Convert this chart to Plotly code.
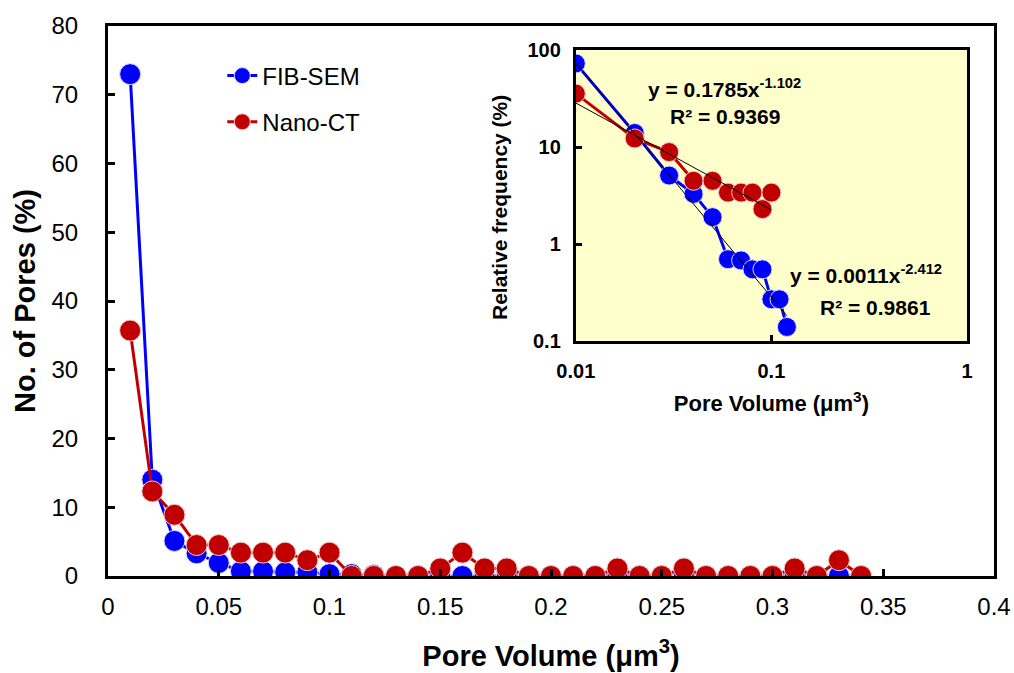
import plotly.graph_objects as go

# ---------- data ----------
pore_volume = [0.01, 0.02, 0.03, 0.04, 0.05, 0.06, 0.07, 0.08, 0.09, 0.10,
               0.11, 0.12, 0.13, 0.14, 0.15, 0.16, 0.17, 0.18, 0.19, 0.20,
               0.21, 0.22, 0.23, 0.24, 0.25, 0.26, 0.27, 0.28, 0.29, 0.30,
               0.31, 0.32, 0.33, 0.34]
fib_sem = [73.0, 14.0, 5.1, 3.3, 1.9, 0.70, 0.68, 0.55, 0.55, 0.27,
           0.27, 0.14, 0, 0, 0, 0, 0, 0, 0, 0,
           0, 0, 0, 0, 0, 0, 0, 0, 0, 0,
           0, 0, 0, 0]
nano_ct = [35.7, 12.3, 8.9, 4.5, 4.5, 3.4, 3.4, 3.4, 2.3, 3.4,
           0, 0, 0, 0, 1.1, 3.4, 1.1, 1.1, 0, 0,
           0, 0, 1.1, 0, 0, 1.1, 0, 0, 0, 0,
           1.1, 0, 2.3, 0]

# inset (log-log) data: non-zero points only
inset_fib_x = pore_volume[:12]
inset_fib_y = fib_sem[:12]
inset_nano_x = pore_volume[:10]
inset_nano_y = nano_ct[:10]

# power-law fits (a, b, R²)
fib_fit = (0.0011, -2.412, 0.9861)
nano_fit = (0.1785, -1.102, 0.9369)
fib_fit_x = [0.01, 0.015, 0.02, 0.03, 0.05, 0.08, 0.12]
nano_fit_x = [0.01, 0.015, 0.02, 0.03, 0.05, 0.07, 0.10]

x_ticks = [0, 0.05, 0.1, 0.15, 0.2, 0.25, 0.3, 0.35, 0.4]
x_tick_text = ["0", "0.05", "0.1", "0.15", "0.2", "0.25", "0.3", "0.35", "0.4"]
y_ticks = [0, 10, 20, 30, 40, 50, 60, 70, 80]
inset_x_ticks = [0.01, 0.1, 1]
inset_x_text = ["<b>0.01</b>", "<b>0.1</b>", "<b>1</b>"]
inset_y_ticks = [0.1, 1, 10, 100]
inset_y_text = ["<b>0.1</b>", "<b>1</b>", "<b>10</b>", "<b>100</b>"]

BLUE = "#0000FF"
RED = "#C00000"
FONT = "Liberation Sans, Arial, sans-serif"

fig = go.Figure()

# ---------- main chart ----------
fig.add_trace(go.Scatter(
    x=pore_volume, y=fib_sem, mode="lines+markers", name="FIB-SEM",
    legendgroup="a",
    line=dict(color=BLUE, width=3),
    marker=dict(color=BLUE, size=21, line=dict(color="#D8D8FF", width=1)),
    xaxis="x", yaxis="y"))
fig.add_trace(go.Scatter(
    x=pore_volume, y=nano_ct, mode="lines+markers", name="Nano-CT",
    legendgroup="b",
    line=dict(color=RED, width=3),
    marker=dict(color=RED, size=21, line=dict(color="#F0C8C8", width=1)),
    xaxis="x", yaxis="y"))

# ---------- inset ----------
fig.add_trace(go.Scatter(
    x=inset_fib_x, y=inset_fib_y, mode="lines+markers", showlegend=False,
    line=dict(color=BLUE, width=3),
    marker=dict(color=BLUE, size=19, line=dict(color="#D8D8FF", width=1)),
    xaxis="x2", yaxis="y2"))
fig.add_trace(go.Scatter(
    x=inset_nano_x, y=inset_nano_y, mode="lines+markers", showlegend=False,
    line=dict(color=RED, width=3),
    marker=dict(color=RED, size=19, line=dict(color="#F0C8C8", width=1)),
    xaxis="x2", yaxis="y2"))

a, b, _ = fib_fit
fig.add_trace(go.Scatter(
    x=fib_fit_x, y=[a * x ** b for x in fib_fit_x], mode="lines",
    showlegend=False, line=dict(color="black", width=1),
    xaxis="x2", yaxis="y2"))
a, b, _ = nano_fit
fig.add_trace(go.Scatter(
    x=nano_fit_x, y=[a * x ** b for x in nano_fit_x], mode="lines",
    showlegend=False, line=dict(color="black", width=1),
    xaxis="x2", yaxis="y2"))

axis_common = dict(showgrid=False, zeroline=False, showline=True,
                   linecolor="black", linewidth=3, ticks="inside",
                   tickcolor="black", tickwidth=3, mirror=True,
                   automargin=False)

fig.update_layout(
    width=1014, height=673,
    margin=dict(l=108, r=20, t=26, b=97),
    plot_bgcolor="rgba(0,0,0,0)", paper_bgcolor="white",
    font=dict(family=FONT, color="black"),
    xaxis=dict(**axis_common, ticklen=7, range=[0, 0.4], tickvals=x_ticks,
               ticktext=x_tick_text, tickfont=dict(size=24),
               ticklabelstandoff=7,
               title=dict(text="<b>Pore Volume (μm<sup>3</sup>)</b>",
                          font=dict(size=29), standoff=27)),
    yaxis=dict(**axis_common, ticklen=7, range=[0, 80], tickvals=y_ticks,
               tickfont=dict(size=24), ticklabelstandoff=22,
               title=dict(text="<b>No. of Pores (%)</b>",
                          font=dict(size=29), standoff=8)),
    xaxis2=dict(**axis_common, ticklen=6, type="log", range=[-2, 0],
                domain=[0.528, 0.9695], anchor="y2",
                tickvals=inset_x_ticks, ticktext=inset_x_text,
                tickfont=dict(size=20), tickangle=0, ticklabelstandoff=10,
                title=dict(text="<b>Pore Volume (μm<sup>3</sup>)</b>",
                           font=dict(size=22), standoff=15)),
    yaxis2=dict(**axis_common, ticklen=6, type="log", range=[-1, 2],
                domain=[0.427, 0.956], anchor="x2",
                tickvals=inset_y_ticks, ticktext=inset_y_text,
                tickfont=dict(size=20), ticklabelstandoff=8),
    legend=dict(x=0.129, y=0.95, xanchor="left", yanchor="top",
                bgcolor="rgba(0,0,0,0)", font=dict(size=24),
                tracegroupgap=12, itemwidth=30),
    shapes=[dict(type="rect", xref="x2 domain", yref="y2 domain",
                 x0=0, x1=1, y0=0, y1=1, fillcolor="#FFFFCC",
                 line=dict(width=0), layer="below")],
)

# inset y-axis title (placed as in the reference, slightly below centre)
fig.add_annotation(xref="paper", yref="paper", x=(499 - 108) / 886,
                   y=1 - (208 - 26) / 550, text="<b>Relative frequency (%)</b>",
                   textangle=-90, showarrow=False, xanchor="center",
                   yanchor="middle", font=dict(size=21, color="black", family=FONT))

ann_font = dict(size=21, color="black", family=FONT)
fa, fb, fr = fib_fit
na, nb, nr = nano_fit
ann = [
    (0.696, 0.887, f"<b>y = {na}x<sup>{nb}</sup></b>"),
    (0.696, 0.835, f"<b>R² = {nr}</b>"),
    (0.8555, 0.550, f"<b>y = {fa}x<sup>{fb}</sup></b>"),
    (0.8668, 0.489, f"<b>R² = {fr}</b>"),
]
for x, y, t in ann:
    fig.add_annotation(xref="paper", yref="paper", x=x, y=y, text=t,
                       showarrow=False, xanchor="center", yanchor="middle",
                       font=ann_font)

fig.write_html("out.html")
